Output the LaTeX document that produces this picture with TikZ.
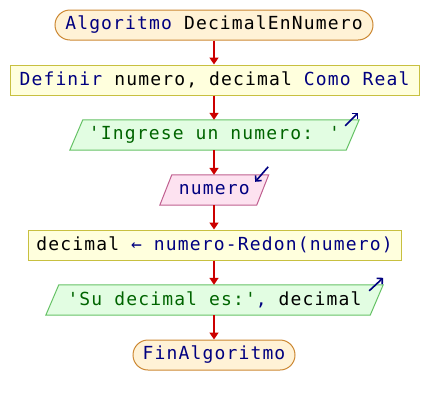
\documentclass[tikz,border=0pt]{standalone}
\usepackage{fontspec}
\newfontfamily\codefont[LetterSpace=6.4]{DejaVu Sans Mono}
\usetikzlibrary{arrows.meta,backgrounds}

\definecolor{kwblue}{HTML}{000080}
\definecolor{strgreen}{HTML}{006400}
\definecolor{flowred}{HTML}{CC0000}
\definecolor{termfill}{HTML}{FFF2D6}
\definecolor{termdraw}{HTML}{CC8833}
\definecolor{procfill}{HTML}{FFFFDD}
\definecolor{procdraw}{HTML}{C8C040}
\definecolor{outfill}{HTML}{E2FDE2}
\definecolor{outdraw}{HTML}{66C266}
\definecolor{infill}{HTML}{FDE2F0}
\definecolor{indraw}{HTML}{C06090}

\newcommand{\kw}[1]{\textcolor{kwblue}{#1}}
\newcommand{\str}[1]{\textcolor{strgreen}{#1}}

\tikzset{
  code/.style={font=\codefont\fontsize{18}{22}\selectfont, inner sep=0pt,
    minimum height=30pt, anchor=center},
  terminal/.style={code, draw=termdraw, fill=termfill, rounded corners=15pt, line width=1pt},
  process/.style={code, draw=procdraw, fill=procfill, line width=1pt},
  ioslot/.style={code},
  outshape/.style={draw=outdraw, fill=outfill, line width=1pt},
  inshape/.style={draw=indraw, fill=infill, line width=1pt},
  flow/.style={draw=flowred, line width=1.6pt, -{Triangle[length=7pt,width=9pt]}},
  iomark/.style={draw=kwblue, line width=1.6pt, -{Straight Barb[length=4pt,width=8pt]}},
}

\begin{document}
\begin{tikzpicture}[x=1pt,y=-1pt]
  \useasboundingbox (0,0) rectangle (428,405);

  % blocks of the flowchart
  \node[terminal, minimum width=318pt] (start) at (214,25)
    {\kw{Algoritmo} DecimalEnNumero};
  \node[process, minimum width=409pt] (def) at (214.5,80)
    {\kw{Definir} numero, decimal \kw{Como Real}};
  \node[ioslot, minimum width=276pt] (ask) at (214.5,135)
    {\str{'Ingrese un numero: '}};
  \node[ioslot, minimum width=96.5pt] (read) at (214.25,190)
    {\kw{numero}};
  \node[process, minimum width=373pt] (calc) at (214.5,245)
    {decimal \kw{← numero-Redon(numero)}};
  \node[ioslot, minimum width=324pt] (show) at (214.5,300)
    {\str{'Su decimal es:'}\kw{,} decimal};
  \node[terminal, minimum width=162pt] (stop) at (214,355)
    {\kw{FinAlgoritmo}};

  % slanted input/output shapes behind their texts
  \begin{scope}[on background layer]
    \path[outshape] ([xshift=6.5pt]ask.north west) -- ([xshift=6.5pt]ask.north east)
      -- ([xshift=-6.5pt]ask.south east) -- ([xshift=-6.5pt]ask.south west) -- cycle;
    \path[inshape] ([xshift=6pt]read.north west) -- ([xshift=6pt]read.north east)
      -- ([xshift=-6pt]read.south east) -- ([xshift=-6pt]read.south west) -- cycle;
    \path[outshape] ([xshift=6.5pt]show.north west) -- ([xshift=6.5pt]show.north east)
      -- ([xshift=-6.5pt]show.south east) -- ([xshift=-6.5pt]show.south west) -- cycle;
  \end{scope}

  % output / input marks
  \draw[iomark] ([shift={(-7.5,6)}]ask.north east) -- ([shift={(5.5,-7)}]ask.north east);
  \draw[iomark] ([shift={(5.5,-8)}]read.north east) -- ([shift={(-7.5,7)}]read.north east);
  \draw[iomark] ([shift={(-7.5,6)}]show.north east) -- ([shift={(6.5,-7)}]show.north east);

  % flow
  \draw[flow] (start.south) -- (start.south |- def.north);
  \draw[flow] (start.south |- def.south) -- (start.south |- ask.north);
  \draw[flow] (start.south |- ask.south) -- (start.south |- read.north);
  \draw[flow] (start.south |- read.south) -- (start.south |- calc.north);
  \draw[flow] (start.south |- calc.south) -- (start.south |- show.north);
  \draw[flow] (start.south |- show.south) -- (stop.north);
\end{tikzpicture}
\end{document}
